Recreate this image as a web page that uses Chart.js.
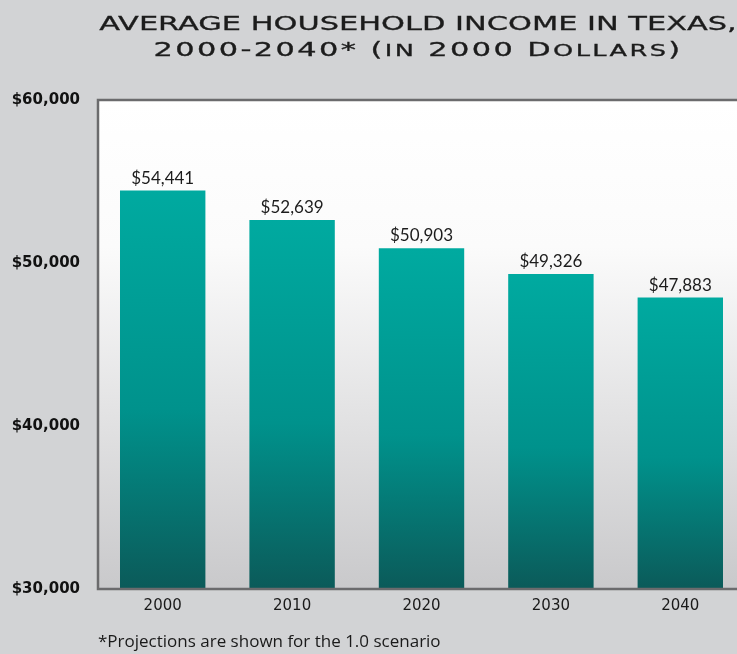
<!DOCTYPE html>
<html>
<head>
<meta charset="utf-8">
<title>Average Household Income in Texas</title>
<script src="https://cdn.jsdelivr.net/npm/chart.js@4.4.1/dist/chart.umd.min.js"></script>
<style>
  html, body { margin: 0; padding: 0; overflow: hidden; background: #d2d3d5; }
  #wrap { width: 836px; height: 654px; }
</style>
</head>
<body>
<div id="wrap"><canvas id="income" width="836" height="654"></canvas></div>
<script>
const years = ["2000", "2010", "2020", "2030", "2040"];
const income = [54441, 52639, 50903, 49326, 47883];
const yTicks = [30000, 40000, 50000, 60000];
const titleLines = ["AVERAGE HOUSEHOLD INCOME IN TEXAS,", "2000-2040* (in 2000 Dollars)"];
const footnote = "*Projections are shown for the 1.0 scenario";

function dollars(v) { return "$" + Number(v).toLocaleString("en-US"); }

// plot area: white fading to grey, with a dark frame
const plotBox = {
  id: "plotBox",
  beforeDatasetsDraw(chart) {
    const {ctx, chartArea: a} = chart;
    const g = ctx.createLinearGradient(0, a.top, 0, a.bottom);
    g.addColorStop(0, "#ffffff");
    g.addColorStop(0.3, "#fbfbfb");
    g.addColorStop(1, "#c9c9cb");
    ctx.save();
    ctx.fillStyle = g;
    ctx.fillRect(a.left, a.top, a.right - a.left, a.bottom - a.top);
    ctx.restore();
  },
  afterDatasetsDraw(chart) {
    const {ctx, chartArea: a} = chart;
    ctx.save();
    ctx.strokeStyle = "#6b6b6d";
    ctx.lineWidth = 2.5;
    ctx.strokeRect(a.left, a.top, a.right - a.left, a.bottom - a.top);
    ctx.restore();
  }
};

// value above each bar
const barLabels = {
  id: "barLabels",
  afterDatasetsDraw(chart) {
    const ctx = chart.ctx;
    const meta = chart.getDatasetMeta(0);
    ctx.save();
    ctx.font = "17px Lato";
    ctx.fillStyle = "#1c1c1c";
    ctx.textAlign = "center";
    ctx.textBaseline = "alphabetic";
    meta.data.forEach((bar, i) => ctx.fillText(dollars(income[i]), bar.x, bar.y - 7));
    ctx.restore();
  }
};

// wide title, lowercase drawn as small capitals
const capsTitle = {
  id: "capsTitle",
  afterDraw(chart) {
    const ctx = chart.ctx;
    const big = "19px 'DejaVu Sans'", small = "16px 'DejaVu Sans'";
    const baselines = [30, 56];
    const spacing = ["0px", "1.5px"];
    ctx.save();
    ctx.fillStyle = "#1c1c1c";
    ctx.strokeStyle = "#1c1c1c";
    ctx.lineWidth = 0.3;
    ctx.textBaseline = "alphabetic";
    ctx.textAlign = "left";
    titleLines.forEach((line, i) => {
      if ("letterSpacing" in ctx) ctx.letterSpacing = spacing[i];
      const runs = line.match(/[a-z]+|[^a-z]+/g);
      let w = 0;
      runs.forEach(r => {
        ctx.font = /[a-z]/.test(r) ? small : big;
        w += ctx.measureText(r.toUpperCase()).width;
      });
      ctx.save();
      ctx.translate(chart.width / 2, baselines[i]);
      ctx.scale(1.6, 1);
      let x = -w / 2;
      runs.forEach(r => {
        const t = r.toUpperCase();
        ctx.font = /[a-z]/.test(r) ? small : big;
        ctx.fillText(t, x, 0);
        ctx.strokeText(t, x, 0);
        x += ctx.measureText(t).width;
      });
      ctx.restore();
    });
    ctx.restore();
  }
};

new Chart("income", {
  type: "bar",
  data: {
    labels: years,
    datasets: [{
      data: income,
      barPercentage: 0.66,
      categoryPercentage: 1,
      backgroundColor(c) {
        const chart = c.chart;
        const area = chart.chartArea;
        if (!area || c.type !== "data") return "#00a99f";
        const top = chart.scales.y.getPixelForValue(c.parsed.y);
        const g = chart.ctx.createLinearGradient(0, top, 0, area.bottom);
        g.addColorStop(0, "#00aaa0");
        g.addColorStop(0.55, "#00928c");
        g.addColorStop(1, "#0b5a59");
        return g;
      }
    }]
  },
  options: {
    responsive: false,
    animation: false,
    devicePixelRatio: 1,
    layout: { padding: { top: 100, right: 91, left: 0, bottom: 0 } },
    plugins: {
      legend: { display: false },
      tooltip: { enabled: false },
      title: { display: false }
    },
    scales: {
      x: {
        afterFit(scale) { scale.height = 65; },
        grid: { display: false, drawTicks: false },
        border: { display: false },
        ticks: {
          padding: 8,
          color: "#1a1a1a",
          font: { family: "'DejaVu Sans'", size: 15 }
        },
        title: {
          display: true,
          text: footnote,
          align: "start",
          color: "#1a1a1a",
          font: { family: "'Open Sans'", size: 17 },
          padding: { top: 0, bottom: 2 }
        }
      },
      y: {
        min: 30000,
        max: 60000,
        afterBuildTicks(scale) { scale.ticks = yTicks.map(v => ({ value: v })); },
        afterFit(scale) { scale.width = 98; },
        grid: { display: false, drawTicks: false },
        border: { display: false },
        ticks: {
          padding: 18,
          color: "#111111",
          font: { family: "'DejaVu Sans'", size: 15, weight: "bold" },
          callback: v => dollars(v)
        }
      }
    }
  },
  plugins: [plotBox, barLabels, capsTitle]
});
</script>
</body>
</html>
